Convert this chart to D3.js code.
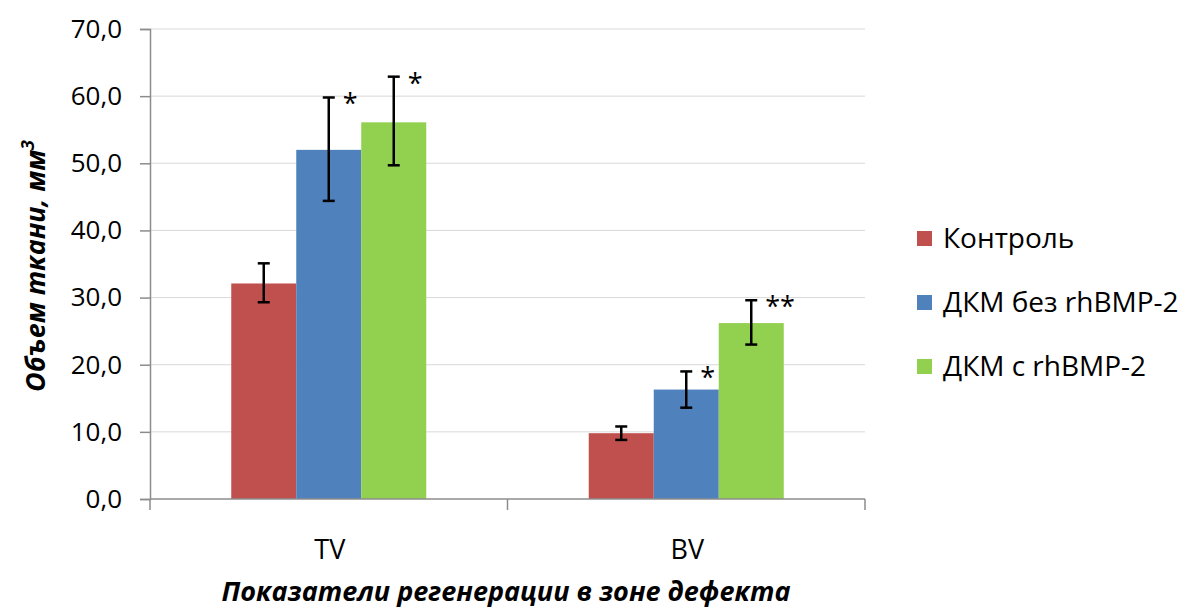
<!DOCTYPE html>
<html>
<head>
<meta charset="utf-8">
<script src="https://cdn.jsdelivr.net/npm/d3@7"></script>
<style>
  body { margin: 0; background: #fff; }
  svg text { font-family: "Open Sans", sans-serif; fill: #000; }
</style>
</head>
<body>
<div id="chart"></div>
<script>
//////////////////////////////////////////////////////////////////////////////
// Data

var categories = ["TV", "BV"];
var seriesNames = ["Контроль", "ДКМ без rhBMP-2", "ДКМ с rhBMP-2"];
var seriesColors = ["#c0504d", "#4f81bd", "#92d050"];

// mean values, [TV, BV]
var control = [32.1, 9.8];
var dkmWithout = [52.0, 16.3];
var dkmWith = [56.1, 26.2];

// error bar ends, [TV, BV]
var controlLow = [29.3, 8.8],  controlHigh = [35.1, 10.8];
var withoutLow = [44.4, 13.6], withoutHigh = [59.8, 19.0];
var withLow = [49.7, 23.0],    withHigh = [62.9, 29.6];

// significance marks, [TV, BV]
var controlMarks = ["", ""];
var withoutMarks = ["*", "*"];
var withMarks = ["*", "**"];

var yTicks = [0, 10, 20, 30, 40, 50, 60, 70];

//////////////////////////////////////////////////////////////////////////////
// Layout

var width = 1186, height = 610;
var plot = { left: 150, right: 865, top: 29, bottom: 499 };

var svg = d3.select("#chart")
    .append("svg")
    .attr("width", width)
    .attr("height", height);

var xScale = d3.scaleBand()
    .domain(categories)
    .range([plot.left, plot.right]);

// bars take 195 of the 357.5px band
var inner = d3.scaleBand()
    .domain(d3.range(seriesNames.length))
    .range([0, 195]);
var groupOffset = (xScale.bandwidth() - 195) / 2;

var yScale = d3.scaleLinear()
    .domain([0, 70])
    .range([plot.bottom, plot.top]);

var fmt = function(v) { return d3.format(".1f")(v).replace(".", ","); };

// gridlines
svg.append("g")
    .selectAll("line")
    .data(yTicks.slice(1))
    .enter()
    .append("line")
    .attr("x1", plot.left)
    .attr("x2", plot.right)
    .attr("y1", function(d) { return yScale(d); })
    .attr("y2", function(d) { return yScale(d); })
    .attr("stroke", "#d9d9d9")
    .attr("stroke-width", 1);

// y axis
var yAxis = d3.axisLeft(yScale)
    .tickValues(yTicks)
    .tickSize(10)
    .tickPadding(18)
    .tickFormat(fmt);

var yG = svg.append("g")
    .attr("transform", "translate(" + plot.left + ",0)")
    .call(yAxis);
yG.select(".domain").attr("stroke", "#8c8c8c").attr("stroke-width", 1.5);
yG.selectAll(".tick line").attr("stroke", "#8c8c8c").attr("stroke-width", 1.5);
yG.selectAll(".tick text")
    .style("font-size", "26px")
    .style("font-family", "'Open Sans', sans-serif")
    .attr("fill", "#000");

// rows for the bars
var rows = [];
var means = [control, dkmWithout, dkmWith];
var lows = [controlLow, withoutLow, withLow];
var highs = [controlHigh, withoutHigh, withHigh];
var marks = [controlMarks, withoutMarks, withMarks];
categories.forEach(function(c, ci) {
    seriesNames.forEach(function(s, si) {
        rows.push({
            cat: c, series: si,
            value: means[si][ci],
            low: lows[si][ci], high: highs[si][ci],
            mark: marks[si][ci]
        });
    });
});

function barX(d) { return xScale(d.cat) + groupOffset + inner(d.series); }
function barMid(d) { return barX(d) + inner.bandwidth() / 2; }

// bars
svg.append("g")
    .selectAll("rect")
    .data(rows)
    .enter()
    .append("rect")
    .attr("x", barX)
    .attr("y", function(d) { return yScale(d.value); })
    .attr("width", inner.bandwidth())
    .attr("height", function(d) { return plot.bottom - yScale(d.value); })
    .attr("fill", function(d) { return seriesColors[d.series]; });

// x axis
var xG = svg.append("g")
    .attr("transform", "translate(0," + plot.bottom + ")");
xG.append("line")
    .attr("x1", plot.left).attr("x2", plot.right)
    .attr("stroke", "#8c8c8c").attr("stroke-width", 1.5);
xG.selectAll(".xtick")
    .data([plot.left].concat(categories.map(function(c) { return xScale(c) + xScale.bandwidth(); })))
    .enter()
    .append("line")
    .attr("x1", function(d) { return d; })
    .attr("x2", function(d) { return d; })
    .attr("y1", 0).attr("y2", 11)
    .attr("stroke", "#8c8c8c").attr("stroke-width", 1.5);
xG.selectAll("text")
    .data(categories)
    .enter()
    .append("text")
    .attr("x", function(d) { return xScale(d) + xScale.bandwidth() / 2 + 1; })
    .attr("y", 60)
    .attr("text-anchor", "middle")
    .style("font-size", "27px")
    .text(function(d) { return d; });

// error bars
var eb = svg.append("g")
    .attr("stroke", "#000")
    .attr("stroke-width", 2.5)
    .selectAll("g")
    .data(rows)
    .enter()
    .append("g");
eb.append("line")
    .attr("x1", barMid).attr("x2", barMid)
    .attr("y1", function(d) { return yScale(d.low); })
    .attr("y2", function(d) { return yScale(d.high); });
eb.append("line")
    .attr("x1", function(d) { return barMid(d) - 6; })
    .attr("x2", function(d) { return barMid(d) + 6; })
    .attr("y1", function(d) { return yScale(d.low); })
    .attr("y2", function(d) { return yScale(d.low); });
eb.append("line")
    .attr("x1", function(d) { return barMid(d) - 6; })
    .attr("x2", function(d) { return barMid(d) + 6; })
    .attr("y1", function(d) { return yScale(d.high); })
    .attr("y2", function(d) { return yScale(d.high); });

// significance stars
svg.append("g")
    .selectAll("text")
    .data(rows.filter(function(d) { return d.mark; }))
    .enter()
    .append("text")
    .attr("x", function(d) { return barMid(d) + 14; })
    .attr("y", function(d) { return yScale(d.high) + 16; })
    .style("font-size", "27px")
    .text(function(d) { return d.mark; });

// legend
var lg = svg.append("g")
    .selectAll("g")
    .data(seriesNames)
    .enter()
    .append("g")
    .attr("transform", function(d, i) { return "translate(917," + (238 + i * 64) + ")"; });
lg.append("rect")
    .attr("x", 0).attr("y", -7)
    .attr("width", 15).attr("height", 15)
    .attr("fill", function(d, i) { return seriesColors[i]; });
lg.append("text")
    .attr("x", 26)
    .attr("y", 10)
    .style("font-size", "28px")
    .text(function(d) { return d; });

// axis titles
var yt = svg.append("text")
    .attr("transform", "translate(45,266) rotate(-90)")
    .attr("text-anchor", "middle")
    .style("font-size", "27px")
    .style("font-weight", "bold")
    .style("font-style", "italic");
yt.append("tspan").text("Объем ткани, мм");
yt.append("tspan")
    .attr("dy", -11)
    .style("font-size", "18px")
    .text("3");

svg.append("text")
    .attr("x", 506)
    .attr("y", 601)
    .attr("text-anchor", "middle")
    .style("font-size", "27px")
    .style("font-weight", "bold")
    .style("font-style", "italic")
    .text("Показатели регенерации в зоне дефекта");
</script>
</body>
</html>
